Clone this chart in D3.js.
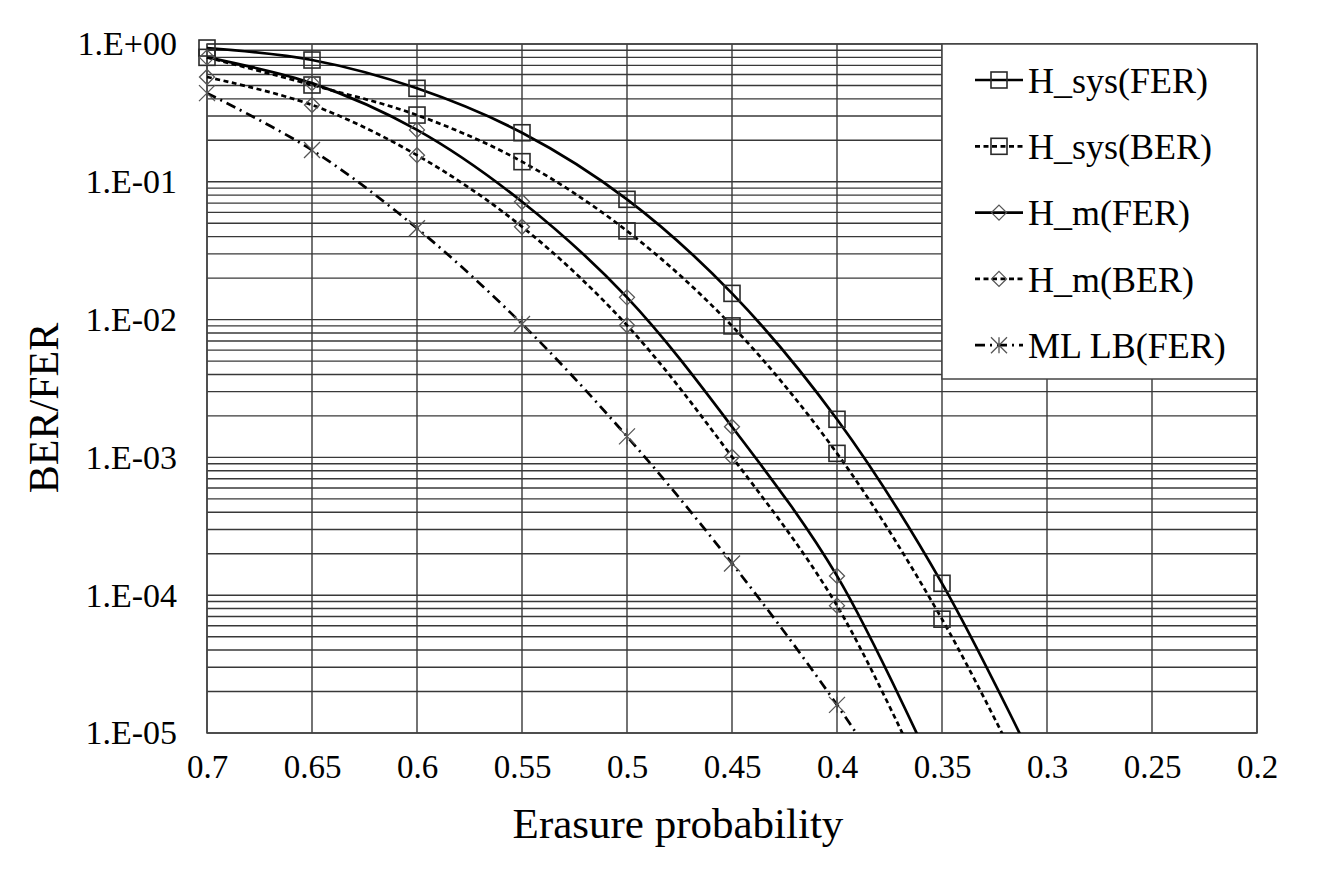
<!DOCTYPE html>
<html>
<head>
<meta charset="utf-8">
<script src="https://cdn.jsdelivr.net/npm/d3@7.9.0/dist/d3.min.js"></script>
<style>
  body { margin: 0; background: #fff; }
  svg text { font-family: "Liberation Serif", "Times New Roman", serif; fill: #000; }
</style>
</head>
<body>
<svg id="chart" width="1331" height="869"></svg>
<script>
// erasure probability (x axis, reversed)
const erasure = [0.7, 0.65, 0.6, 0.55, 0.5, 0.45, 0.4, 0.35, 0.3];
const xTicks = [0.7, 0.65, 0.6, 0.55, 0.5, 0.45, 0.4, 0.35, 0.3, 0.25, 0.2];
const yTicks = [1, 1e-1, 1e-2, 1e-3, 1e-4, 1e-5];

// values (last points fall below the 1e-5 floor and get clipped)
const hSysFER = [0.935, 0.765, 0.477, 0.227, 0.0746, 0.0155, 1.89e-3, 1.22e-4, 3.9e-6];
const hSysBER = [0.80, 0.504, 0.305, 0.140, 0.044, 9.0e-3, 1.07e-3, 6.7e-5, 2.2e-6];
const hmFER = [0.80, 0.52, 0.238, 0.0717, 0.0145, 1.67e-3, 1.38e-4, 4.0e-6];
const hmBER = [0.576, 0.361, 0.156, 0.0472, 9.1e-3, 1.01e-3, 8.4e-5, 2.4e-6];
const mlFER = [0.44, 0.170, 0.046, 9.3e-3, 1.42e-3, 1.70e-4, 1.6e-5, 1.1e-6];

const series = [
  { name: "H_sys(FER)", values: hSysFER, dash: null, marker: "square" },
  { name: "H_sys(BER)", values: hSysBER, dash: "5,3.5", marker: "square" },
  { name: "H_m(FER)", values: hmFER, dash: null, marker: "diamond" },
  { name: "H_m(BER)", values: hmBER, dash: "5,3.5", marker: "diamond" },
  { name: "ML LB(FER)", values: mlFER, dash: "10,5,2,5", marker: "star" },
];

const plotLeft = 207, plotTop = 44, plotRight = 1257, plotBottom = 733;
const svg = d3.select("#chart");

const x = d3.scaleLinear().domain([0.7, 0.2]).range([plotLeft, plotRight]);
const y = d3.scaleLog().domain([1, 1e-5]).range([plotTop, plotBottom]);

const gridColor = "#383838";

// horizontal grid: decades plus 2..9 minors
const minor = [];
for (let e = -5; e < 0; e++) {
  for (let m = 2; m <= 9; m++) minor.push(m * Math.pow(10, e));
}
svg.append("g")
  .selectAll("line")
  .data(minor.concat(yTicks))
  .join("line")
  .attr("x1", plotLeft).attr("x2", plotRight)
  .attr("y1", d => y(d)).attr("y2", d => y(d))
  .attr("stroke", gridColor).attr("stroke-width", 1.4);

// vertical grid
svg.append("g")
  .selectAll("line")
  .data(xTicks)
  .join("line")
  .attr("x1", d => x(d)).attr("x2", d => x(d))
  .attr("y1", plotTop).attr("y2", plotBottom)
  .attr("stroke", gridColor).attr("stroke-width", 1.4);

// plot frame
svg.append("rect")
  .attr("x", plotLeft).attr("y", plotTop)
  .attr("width", plotRight - plotLeft).attr("height", plotBottom - plotTop)
  .attr("fill", "none").attr("stroke", "#444").attr("stroke-width", 1.5);

// axes (labels only, lines come from the grid)
const fmtY = d => {
  const e = Math.round(Math.log10(d));
  return "1.E" + (e >= 0 ? "+" : "-") + String(Math.abs(e)).padStart(2, "0");
};
const yAxis = svg.append("g")
  .attr("transform", `translate(${plotLeft},0)`)
  .call(d3.axisLeft(y).tickValues(yTicks).tickFormat(fmtY).tickSize(0).tickPadding(30));
const xAxis = svg.append("g")
  .attr("transform", `translate(0,${plotBottom})`)
  .call(d3.axisBottom(x).tickValues(xTicks).tickFormat(d3.format("")).tickSize(0).tickPadding(22));
[yAxis, xAxis].forEach(g => {
  g.select(".domain").remove();
  g.selectAll("text").attr("font-family", "Liberation Serif").attr("fill", "#000");
});
yAxis.selectAll("text").attr("font-size", 34);
xAxis.selectAll("text").attr("font-size", 33);

// axis titles
svg.append("text")
  .attr("transform", "translate(58,408) rotate(-90)")
  .attr("text-anchor", "middle")
  .attr("font-size", 42)
  .text("BER/FER");
svg.append("text")
  .attr("x", 678).attr("y", 838)
  .attr("text-anchor", "middle")
  .attr("font-size", 43)
  .text("Erasure probability");

// marker shapes
function drawMarker(g, type, cx, cy) {
  if (type === "square") {
    g.append("rect")
      .attr("x", cx - 8).attr("y", cy - 8).attr("width", 16).attr("height", 16)
      .attr("fill", "none").attr("stroke", "#2a2a2a").attr("stroke-width", 1.6);
  } else if (type === "diamond") {
    g.append("path")
      .attr("d", `M${cx},${cy - 7.5}L${cx + 7.5},${cy}L${cx},${cy + 7.5}L${cx - 7.5},${cy}Z`)
      .attr("fill", "none").attr("stroke", "#555").attr("stroke-width", 1.3);
  } else {
    const r = 8;
    g.append("path")
      .attr("d", `M${cx - r},${cy - r}L${cx + r},${cy + r}M${cx - r},${cy + r}L${cx + r},${cy - r}M${cx},${cy - r}L${cx},${cy + r}`)
      .attr("fill", "none").attr("stroke", "#555").attr("stroke-width", 1.3);
  }
}

// clip everything at the bottom edge of the plot
svg.append("clipPath").attr("id", "plot-clip")
  .append("rect")
  .attr("x", plotLeft - 12).attr("y", plotTop - 12)
  .attr("width", plotRight - plotLeft + 24).attr("height", plotBottom - plotTop + 12);

const plot = svg.append("g").attr("clip-path", "url(#plot-clip)");

const line = d3.line()
  .x((d, i) => x(erasure[i]))
  .y(d => y(d))
  .curve(d3.curveCatmullRom.alpha(0.5));

series.forEach(s => {
  plot.append("path")
    .datum(s.values)
    .attr("d", line)
    .attr("fill", "none")
    .attr("stroke", "#000")
    .attr("stroke-width", 2.7)
    .attr("stroke-dasharray", s.dash);
});

series.forEach(s => {
  const g = plot.append("g");
  s.values.forEach((v, i) => {
    if (v >= 1e-5) drawMarker(g, s.marker, x(erasure[i]), y(v));
  });
});

// legend
const legend = svg.append("g");
legend.append("rect")
  .attr("x", 942).attr("y", plotTop)
  .attr("width", plotRight - 942).attr("height", 335)
  .attr("fill", "#fff").attr("stroke", "#444").attr("stroke-width", 1.5);

series.forEach((s, i) => {
  const cy = 80 + i * 66.3;
  const g = legend.append("g");
  g.append("line")
    .attr("x1", 975).attr("x2", 1023)
    .attr("y1", cy).attr("y2", cy)
    .attr("stroke", "#000").attr("stroke-width", 2.7)
    .attr("stroke-dasharray", s.dash);
  drawMarker(g, s.marker, 999, cy);
  g.append("text")
    .attr("x", 1028).attr("y", cy)
    .attr("dy", "0.35em")
    .attr("font-size", 36)
    .text(s.name);
});
</script>
</body>
</html>
